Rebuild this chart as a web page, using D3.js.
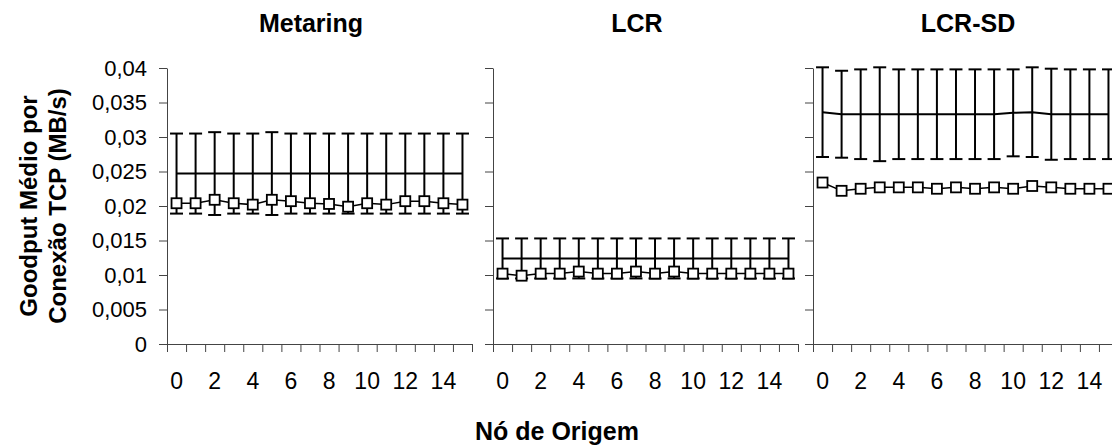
<!DOCTYPE html>
<html>
<head>
<meta charset="utf-8">
<script src="https://cdn.jsdelivr.net/npm/d3@7"></script>
<style>
  body { margin: 0; background: #fff; }
  svg { display: block; font-family: Arial, "Liberation Sans", sans-serif; }
</style>
</head>
<body>
<div id="chart"></div>
<script>
// source node ids (categories) and labelled ticks
const nodes = [0, 1, 2, 3, 4, 5, 6, 7, 8, 9, 10, 11, 12, 13, 14, 15];
const xLabels = [0, 2, 4, 6, 8, 10, 12, 14];
const yTicks = [0, 0.005, 0.01, 0.015, 0.02, 0.025, 0.03, 0.035, 0.04];

// Metaring
const metaringAvg  = [0.0204, 0.0204, 0.0209, 0.0204, 0.0202, 0.0209, 0.0207, 0.0204, 0.0203, 0.0199, 0.0204, 0.0202, 0.0207, 0.0207, 0.0204, 0.0202];
const metaringMean = [0.0247, 0.0247, 0.0247, 0.0247, 0.0247, 0.0247, 0.0247, 0.0247, 0.0247, 0.0247, 0.0247, 0.0247, 0.0247, 0.0247, 0.0247, 0.0247];
const metaringSd   = [0.0058, 0.0058, 0.0060, 0.0058, 0.0058, 0.0060, 0.0058, 0.0058, 0.0058, 0.0058, 0.0058, 0.0058, 0.0058, 0.0058, 0.0058, 0.0058];

// LCR
const lcrAvg  = [0.0102, 0.0099, 0.0102, 0.0102, 0.0105, 0.0102, 0.0102, 0.0105, 0.0102, 0.0105, 0.0102, 0.0102, 0.0102, 0.0102, 0.0102, 0.0102];
const lcrMean = [0.0124, 0.0124, 0.0124, 0.0124, 0.0124, 0.0124, 0.0124, 0.0124, 0.0124, 0.0124, 0.0124, 0.0124, 0.0124, 0.0124, 0.0124, 0.0124];
const lcrSd   = [0.0029, 0.0029, 0.0029, 0.0029, 0.0029, 0.0029, 0.0029, 0.0029, 0.0029, 0.0029, 0.0029, 0.0029, 0.0029, 0.0029, 0.0029, 0.0029];

// LCR-SD
const lcrSdAvg  = [0.0234, 0.0222, 0.0225, 0.0227, 0.0227, 0.0227, 0.0225, 0.0227, 0.0225, 0.0227, 0.0225, 0.0229, 0.0227, 0.0225, 0.0225, 0.0225];
const lcrSdMean = [0.0336, 0.0333, 0.0333, 0.0333, 0.0333, 0.0333, 0.0333, 0.0333, 0.0333, 0.0333, 0.0335, 0.0336, 0.0333, 0.0333, 0.0333, 0.0333];
const lcrSdSd   = [0.0065, 0.0063, 0.0065, 0.0068, 0.0065, 0.0065, 0.0065, 0.0065, 0.0065, 0.0065, 0.0063, 0.0065, 0.0066, 0.0065, 0.0065, 0.0065];

const panels = [
    {title: "Metaring", avg: metaringAvg, mean: metaringMean, sd: metaringSd, left: 167, titleX: 311},
    {title: "LCR", avg: lcrAvg, mean: lcrMean, sd: lcrSd, left: 493, titleX: 637},
    {title: "LCR-SD", avg: lcrSdAvg, mean: lcrSdMean, sd: lcrSdSd, left: 813, titleX: 968}
];

const width = 1112, height = 448;
const plotTop = 68, plotBottom = 344, plotW = 305;
const capW = 13, boxSize = 10;

const svg = d3.select("#chart").append("svg")
    .attr("width", width)
    .attr("height", height);

const y = d3.scaleLinear().domain([0, 0.04]).range([plotBottom, plotTop]);
const locale = d3.formatLocale({decimal: ",", thousands: ".", grouping: [3], currency: ["", ""]});
const fmt = locale.format("~g");

panels.forEach(function(p, k) {
    let x = d3.scaleBand().domain(nodes).range([p.left, p.left + plotW]);
    let xb = d3.scaleLinear().domain([0, nodes.length]).range([p.left, p.left + plotW]);
    let cx = function(i) { return x(nodes[i]) + x.bandwidth() / 2; };
    let g = svg.append("g");

    // y axis
    let ya = g.append("g")
        .attr("transform", "translate(" + p.left + ",0)")
        .call(d3.axisLeft(y).tickValues(yTicks).tickSize(8).tickSizeOuter(0).tickPadding(12)
            .tickFormat(k === 0 ? fmt : ""));
    ya.selectAll("text").attr("font-size", 22).attr("font-family", null).attr("fill", "#000");

    // x axis ticks between categories
    g.append("g")
        .attr("transform", "translate(0," + plotBottom + ")")
        .call(d3.axisBottom(xb).tickValues(d3.range(nodes.length + 1)).tickSize(8).tickSizeOuter(0).tickFormat(""));

    // x labels at category centres
    let xl = g.append("g")
        .attr("transform", "translate(0," + plotBottom + ")")
        .call(d3.axisBottom(x).tickValues(xLabels).tickSize(0).tickPadding(29));
    xl.select(".domain").remove();
    xl.selectAll("text").attr("font-size", 23).attr("font-family", null).attr("fill", "#000");

    g.selectAll(".domain, .tick line").attr("stroke", "#444");

    // error bars on the mean series
    let eb = g.append("g").attr("stroke", "#000").attr("stroke-width", 2);
    nodes.forEach(function(n, i) {
        let hi = y(p.mean[i] + p.sd[i]), lo = y(p.mean[i] - p.sd[i]);
        eb.append("line").attr("x1", cx(i)).attr("x2", cx(i)).attr("y1", hi).attr("y2", lo);
        eb.append("line").attr("x1", cx(i) - capW / 2).attr("x2", cx(i) + capW / 2).attr("y1", hi).attr("y2", hi);
        eb.append("line").attr("x1", cx(i) - capW / 2).attr("x2", cx(i) + capW / 2).attr("y1", lo).attr("y2", lo);
    });

    let line = d3.line().x(function(d, i) { return cx(i); }).y(function(d) { return y(d); });

    g.append("path")
        .datum(p.mean)
        .attr("d", line)
        .attr("fill", "none")
        .attr("stroke", "#000")
        .attr("stroke-width", 2);

    g.append("path")
        .datum(p.avg)
        .attr("d", line)
        .attr("fill", "none")
        .attr("stroke", "#000")
        .attr("stroke-width", 1.5);

    g.selectAll("rect.box")
        .data(p.avg)
        .enter().append("rect")
        .attr("class", "box")
        .attr("x", function(d, i) { return cx(i) - boxSize / 2; })
        .attr("y", function(d) { return y(d) - boxSize / 2; })
        .attr("width", boxSize)
        .attr("height", boxSize)
        .attr("fill", "#fff")
        .attr("stroke", "#000")
        .attr("stroke-width", 1.8);

    svg.append("text")
        .attr("x", p.titleX)
        .attr("y", 32)
        .attr("text-anchor", "middle")
        .attr("font-size", 25)
        .attr("font-weight", "bold")
        .text(p.title);
});

// axis titles
let yt = svg.append("text")
    .attr("transform", "translate(0," + (plotTop + plotBottom) / 2 + ") rotate(-90)")
    .attr("text-anchor", "middle")
    .attr("font-size", 24)
    .attr("font-weight", "bold");
yt.append("tspan").attr("x", 0).attr("y", 37).text("Goodput Médio por");
yt.append("tspan").attr("x", 0).attr("y", 66).text("Conexão TCP (MB/s)");

svg.append("text")
    .attr("x", 557)
    .attr("y", 440)
    .attr("text-anchor", "middle")
    .attr("font-size", 25)
    .attr("font-weight", "bold")
    .text("Nó de Origem");
</script>
</body>
</html>
